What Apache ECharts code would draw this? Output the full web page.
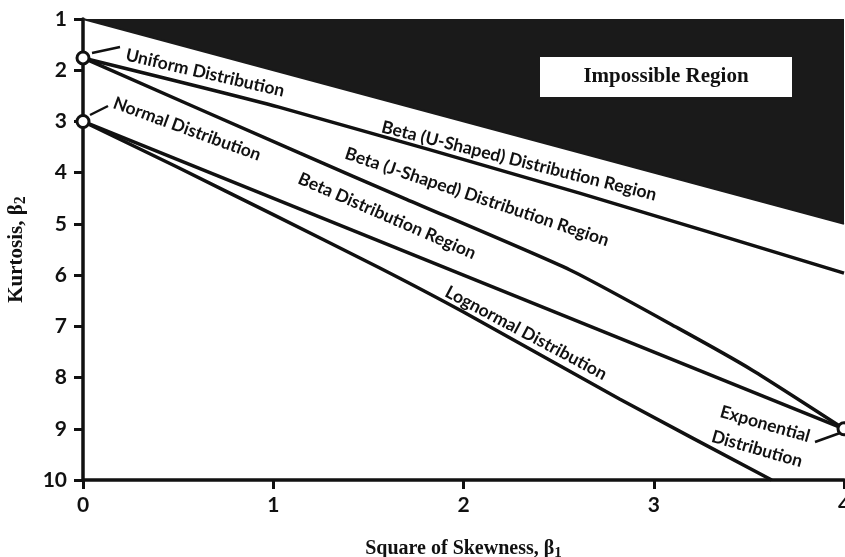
<!DOCTYPE html>
<html>
<head>
<meta charset="utf-8">
<script src="https://cdn.jsdelivr.net/npm/echarts@6/dist/echarts.min.js"></script>
<style>html,body{margin:0;padding:0;background:#fff}#c{width:845px;height:557px}</style>
</head>
<body>
<div id="c"></div>
<script>
// ---- data (square of skewness β1, kurtosis β2) ----
const xTicks = [0, 1, 2, 3, 4];
const yTicks = [1, 2, 3, 4, 5, 6, 7, 8, 9, 10];

const impossibleB1 = [0, 4];
const impossibleB2 = [1, 5];

const uShapeB1 = [0, 1.03, 2.61, 4];
const uShapeB2 = [1.76, 2.72, 4.40, 5.96];

const jShapeB1 = [0, 1.14, 1.70, 2.56, 3.13, 3.52, 4];
const jShapeB2 = [1.76, 3.62, 4.52, 5.90, 7.04, 7.86, 9];

const betaB1 = [0, 4];
const betaB2 = [3, 9];

const lognormB1 = [0, 0.5, 1, 1.56, 2, 2.82, 3.62];
const lognormB2 = [3, 3.9, 4.82, 5.86, 6.72, 8.42, 10];

const pointNames = ['Uniform', 'Normal', 'Exponential'];
const pointB1 = [0, 0, 4];
const pointB2 = [1.76, 3, 9];

const zip = (a, b) => a.map((v, i) => [v, b[i]]);

const LBL = 'bold 17.5px Lato';
const lineStyle = { color: '#111', width: 3.5 };

const chart = echarts.init(document.getElementById('c'));
chart.setOption({
  animation: false,
  grid: { left: 83, right: 1, top: 19, bottom: 77, containLabel: false, outerBoundsMode: 'none' },
  xAxis: {
    type: 'value', min: 0, max: 4, interval: 1,
    axisLine: { show: true, onZero: false, lineStyle: { color: '#111', width: 3.5 } },
    axisTick: { show: true, length: 9, lineStyle: { color: '#111', width: 3 } },
    axisLabel: { color: '#111', fontFamily: 'Lato', fontWeight: 'bold', fontSize: 21, margin: 15,
      formatter: v => xTicks.includes(v) ? String(v) : '' },
    splitLine: { show: false },
    name: 'Square of Skewness, β{sub|1}',
    nameLocation: 'middle', nameGap: 57,
    nameTextStyle: { color: '#111', fontFamily: 'Liberation Serif', fontWeight: 'bold', fontSize: 20,
      rich: { sub: { fontFamily: 'Liberation Serif', fontWeight: 'bold', fontSize: 15, verticalAlign: 'bottom', padding: [9, 0, 0, 0] } } }
  },
  yAxis: {
    type: 'value', min: 1, max: 10, interval: 1, inverse: true,
    axisLine: { show: true, onZero: false, lineStyle: { color: '#111', width: 3.5 } },
    axisTick: { show: true, length: 9, lineStyle: { color: '#111', width: 3 } },
    axisLabel: { color: '#111', fontFamily: 'Lato', fontWeight: 'bold', fontSize: 21, margin: 16,
      formatter: v => yTicks.includes(v) ? String(v) : '' },
    splitLine: { show: false },
    name: 'Kurtosis, β{sub|2}',
    nameLocation: 'middle', nameGap: 54, nameRotate: 90,
    nameTextStyle: { color: '#111', fontFamily: 'Liberation Serif', fontWeight: 'bold', fontSize: 21,
      rich: { sub: { fontFamily: 'Liberation Serif', fontWeight: 'bold', fontSize: 16, verticalAlign: 'bottom', padding: [9, 0, 0, 0] } } }
  },
  series: [
    { name: 'Impossible', type: 'line', data: zip(impossibleB1, impossibleB2), symbol: 'none',
      lineStyle: { color: '#1a1a1a', width: 2 }, areaStyle: { color: '#1a1a1a', opacity: 1, origin: 'start' }, z: 1 },
    { name: 'U', type: 'line', data: zip(uShapeB1, uShapeB2), symbol: 'none', smooth: 0.2, lineStyle },
    { name: 'J', type: 'line', data: zip(jShapeB1, jShapeB2), symbol: 'none', smooth: 0.2, lineStyle },
    { name: 'Beta', type: 'line', data: zip(betaB1, betaB2), symbol: 'none', lineStyle },
    { name: 'Lognormal', type: 'line', data: zip(lognormB1, lognormB2), symbol: 'none', smooth: 0.2, lineStyle },
    { name: 'Points', type: 'scatter', data: zip(pointB1, pointB2), symbol: 'circle', symbolSize: 12,
      itemStyle: { color: '#fff', borderColor: '#111', borderWidth: 3, opacity: 1 }, z: 5 }
  ],
  graphic: [
    { type: 'rect', shape: { x: 540, y: 57, width: 252, height: 40 }, style: { fill: '#fff' }, z: 10 },
    { type: 'text', x: 666, y: 77, z: 11, style: { text: 'Impossible Region', font: 'bold 21px "Liberation Serif"', fill: '#111', textAlign: 'center', textVerticalAlign: 'middle' } },
    { type: 'text', x: 205, y: 73, rotation: -13 * Math.PI / 180, z: 11, style: { text: 'Uniform Distribution', font: LBL, fill: '#111', textAlign: 'center', textVerticalAlign: 'middle' } },
    { type: 'text', x: 187, y: 129, rotation: -20 * Math.PI / 180, z: 11, style: { text: 'Normal Distribution', font: LBL, fill: '#111', textAlign: 'center', textVerticalAlign: 'middle' } },
    { type: 'text', x: 519, y: 161, rotation: -14 * Math.PI / 180, z: 11, style: { text: 'Beta (U-Shaped) Distribution Region', font: LBL, fill: '#111', textAlign: 'center', textVerticalAlign: 'middle' } },
    { type: 'text', x: 477, y: 197, rotation: -18.5 * Math.PI / 180, z: 11, style: { text: 'Beta (J-Shaped) Distribution Region', font: LBL, fill: '#111', textAlign: 'center', textVerticalAlign: 'middle' } },
    { type: 'text', x: 387, y: 216, rotation: -23.5 * Math.PI / 180, z: 11, style: { text: 'Beta Distribution Region', font: LBL, fill: '#111', textAlign: 'center', textVerticalAlign: 'middle' } },
    { type: 'text', x: 526, y: 333, rotation: -28 * Math.PI / 180, z: 11, style: { text: 'Lognormal Distribution', font: LBL, fill: '#111', textAlign: 'center', textVerticalAlign: 'middle' } },
    { type: 'text', x: 765, y: 424, rotation: -16 * Math.PI / 180, z: 11, style: { text: 'Exponential', font: LBL, fill: '#111', textAlign: 'center', textVerticalAlign: 'middle' } },
    { type: 'text', x: 757, y: 449, rotation: -16 * Math.PI / 180, z: 11, style: { text: 'Distribution', font: LBL, fill: '#111', textAlign: 'center', textVerticalAlign: 'middle' } },
    { type: 'line', shape: { x1: 92, y1: 53, x2: 120, y2: 47 }, style: { stroke: '#111', lineWidth: 2.5 }, z: 11 },
    { type: 'line', shape: { x1: 90, y1: 115, x2: 108, y2: 106 }, style: { stroke: '#111', lineWidth: 2.5 }, z: 11 },
    { type: 'line', shape: { x1: 815, y1: 442, x2: 840, y2: 433 }, style: { stroke: '#111', lineWidth: 2.5 }, z: 11 }
  ]
});
</script>
</body>
</html>
